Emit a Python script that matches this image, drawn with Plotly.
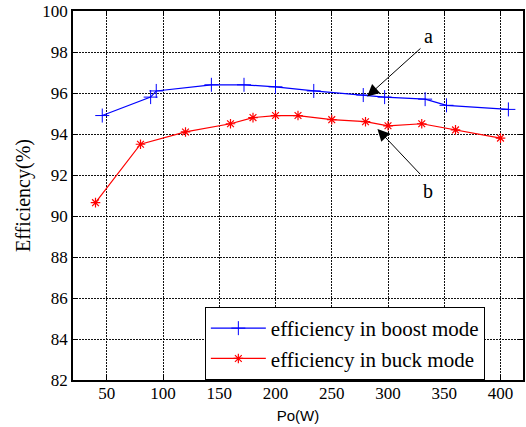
import plotly.graph_objects as go

# Data
boost_x = [46, 89, 94, 143, 172, 200, 234, 278, 297, 333, 352, 407]
boost_y = [94.9, 95.8, 96.1, 96.4, 96.4, 96.3, 96.1, 95.9, 95.8, 95.7, 95.4, 95.2]
buck_x = [40, 80, 120, 160, 180, 200, 220, 250, 280, 300, 330, 360, 400]
buck_y = [90.65, 93.5, 94.1, 94.5, 94.8, 94.9, 94.9, 94.7, 94.6, 94.4, 94.5, 94.2, 93.8]
x_ticks = [50, 100, 150, 200, 250, 300, 350, 400]
y_ticks = [82, 84, 86, 88, 90, 92, 94, 96, 98, 100]

serif = "Liberation Serif, Times New Roman, serif"

fig = go.Figure()
fig.add_trace(go.Scatter(
    x=boost_x, y=boost_y, mode="lines+markers", name="efficiency in boost mode",
    line=dict(color="#0000ff", width=1.2),
    marker=dict(symbol="cross-thin-open", size=10, line=dict(color="#0000ff", width=1)),
))
fig.add_trace(go.Scatter(
    x=buck_x, y=buck_y, mode="lines+markers", name="efficiency in buck mode",
    line=dict(color="#ff0000", width=1.2),
    marker=dict(symbol="asterisk-open", size=8, line=dict(color="#ff0000", width=1.2)),
))

axis_common = dict(
    showline=True, linecolor="black", linewidth=1.5, mirror="ticks",
    ticks="inside", ticklen=5, tickcolor="black", tickwidth=1,
    showgrid=True, gridcolor="#111111", griddash="2px,1px", gridwidth=1,
    zeroline=False,
    tickfont=dict(family=serif, size=17, color="black"),
)

fig.update_xaxes(range=[20, 420], tickvals=x_ticks, ticktext=[str(v) for v in x_ticks],
                 ticklabelstandoff=-3,
                 title=dict(text="Po(W)", font=dict(family="Liberation Sans, Arial, sans-serif", size=15, color="black"), standoff=8),
                 **axis_common)
fig.update_yaxes(range=[82, 100], tickvals=y_ticks, ticktext=[str(v) for v in y_ticks],
                 title=dict(text="Efficiency(%)", font=dict(family=serif, size=20, color="black"), standoff=6),
                 **axis_common)

# annotations a / b
fig.add_annotation(x=281.5, y=95.83, ax=330.2, ay=98.24, axref="x", ayref="y",
                   xref="x", yref="y", text="", showarrow=True, arrowhead=2,
                   arrowsize=2.4, arrowwidth=1, arrowcolor="black")
fig.add_annotation(x=335.6, y=98.77, xref="x", yref="y", text="a", showarrow=False,
                   font=dict(family=serif, size=20, color="black"))
fig.add_annotation(x=290.6, y=94.25, ax=330.0, ay=91.96, axref="x", ayref="y",
                   xref="x", yref="y", text="", showarrow=True, arrowhead=2,
                   arrowsize=2.4, arrowwidth=1, arrowcolor="black")
fig.add_annotation(x=335.6, y=91.23, xref="x", yref="y", text="b", showarrow=False,
                   font=dict(family=serif, size=20, color="black"))

fig.update_layout(
    width=526, height=427,
    margin=dict(l=73, r=1, t=11, b=47),
    paper_bgcolor="white", plot_bgcolor="white",
    showlegend=True,
    legend=dict(x=0.293, y=0.0, xanchor="left", yanchor="bottom",
                bgcolor="white", bordercolor="black", borderwidth=1,
                itemwidth=55,
                font=dict(family=serif, size=21, color="black"),
                tracegroupgap=0),
)

fig.write_html("out.html")
